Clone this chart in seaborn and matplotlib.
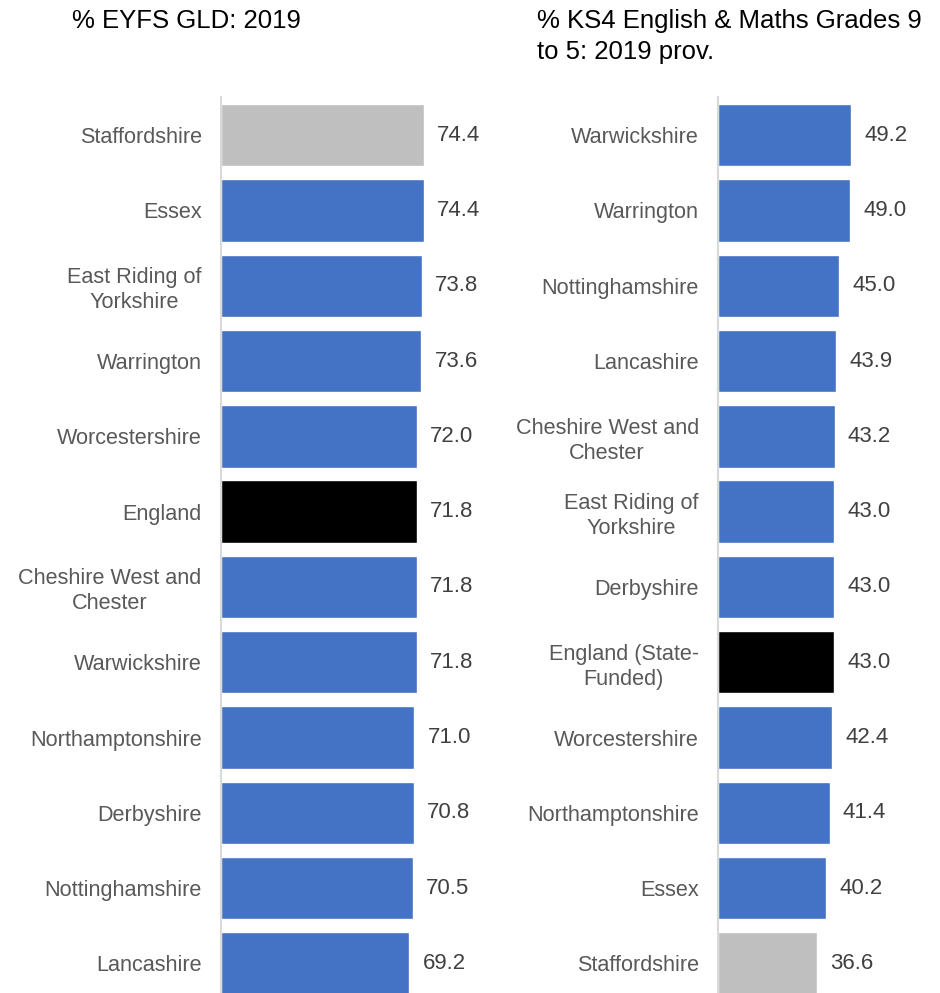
import pandas as pd
import matplotlib.pyplot as plt
import seaborn as sns

# -----------------------------
# Data
# -----------------------------
eyfs_areas = ["Staffordshire", "Essex", "East Riding of\nYorkshire", "Warrington",
              "Worcestershire", "England", "Cheshire West and\nChester", "Warwickshire",
              "Northamptonshire", "Derbyshire", "Nottinghamshire", "Lancashire"]
eyfs_values = [74.4, 74.4, 73.8, 73.6, 72.0, 71.8, 71.8, 71.8, 71.0, 70.8, 70.5, 69.2]

ks4_areas = ["Warwickshire", "Warrington", "Nottinghamshire", "Lancashire",
             "Cheshire West and\nChester", "East Riding of\nYorkshire", "Derbyshire",
             "England (State-\nFunded)", "Worcestershire", "Northamptonshire", "Essex",
             "Staffordshire"]
ks4_values = [49.2, 49.0, 45.0, 43.9, 43.2, 43.0, 43.0, 43.0, 42.4, 41.4, 40.2, 36.6]

BLUE = "#4472C4"
GREY = "#BFBFBF"
BLACK = "#000000"


def bar_colour(name):
    if name.startswith("Staffordshire"):
        return GREY
    if name.startswith("England"):
        return BLACK
    return BLUE


sns.set_style("white")
plt.rcParams['font.family'] = ['Liberation Sans', 'DejaVu Sans']

W, H = 940, 993
fig = plt.figure(figsize=(W / 100, H / 100), dpi=100)

# row layout in pixels
row_top = 97.5
row_h = 75.3
n_rows = 12
ax_bottom_px = row_top + n_rows * row_h


def draw_panel(left_px, px_per_unit, xmax, areas, values):
    width_px = px_per_unit * xmax
    ax = fig.add_axes([left_px / W, 1 - ax_bottom_px / H, width_px / W, n_rows * row_h / H])
    df = pd.DataFrame({"area": areas, "value": values})
    pal = {a: bar_colour(a) for a in areas}
    sns.barplot(data=df, x="value", y="area", hue="area", palette=pal, order=areas,
                hue_order=areas, legend=False, width=0.83, saturation=1, ax=ax)
    for c in ax.containers:
        ax.bar_label(c, fmt="%.1f", padding=9.5, fontsize=16, color="#404040")
    ax.set_xlim(0, xmax)
    ax.set_ylim(n_rows - 0.5, -0.5)
    ax.set_xlabel("")
    ax.set_ylabel("")
    ax.set_xticks([])
    for s in ["top", "right", "bottom"]:
        ax.spines[s].set_visible(False)
    ax.spines["left"].set_color("#D9D9D9")
    ax.spines["left"].set_linewidth(1.5)
    ax.tick_params(axis="y", length=0, pad=13.5, labelsize=15.6, labelcolor="#595959")
    for t in ax.get_yticklabels():
        t.set_multialignment("center")
        t.set_linespacing(1.25)
    ax.patch.set_alpha(0)
    return ax


draw_panel(220.5, 2.73, 100, eyfs_areas, eyfs_values)
draw_panel(717.5, 2.71, 80, ks4_areas, ks4_values)

fig.text(72 / W, 1 - 9 / H, "% EYFS GLD: 2019", fontsize=18.5, color="#000000", va="top", ha="left")
fig.text(537 / W, 1 - 9 / H, "% KS4 English & Maths Grades 9\nto 5: 2019 prov.", fontsize=18.5,
         color="#000000", va="top", ha="left", linespacing=1.35)

fig.savefig("out.png", dpi=100)
